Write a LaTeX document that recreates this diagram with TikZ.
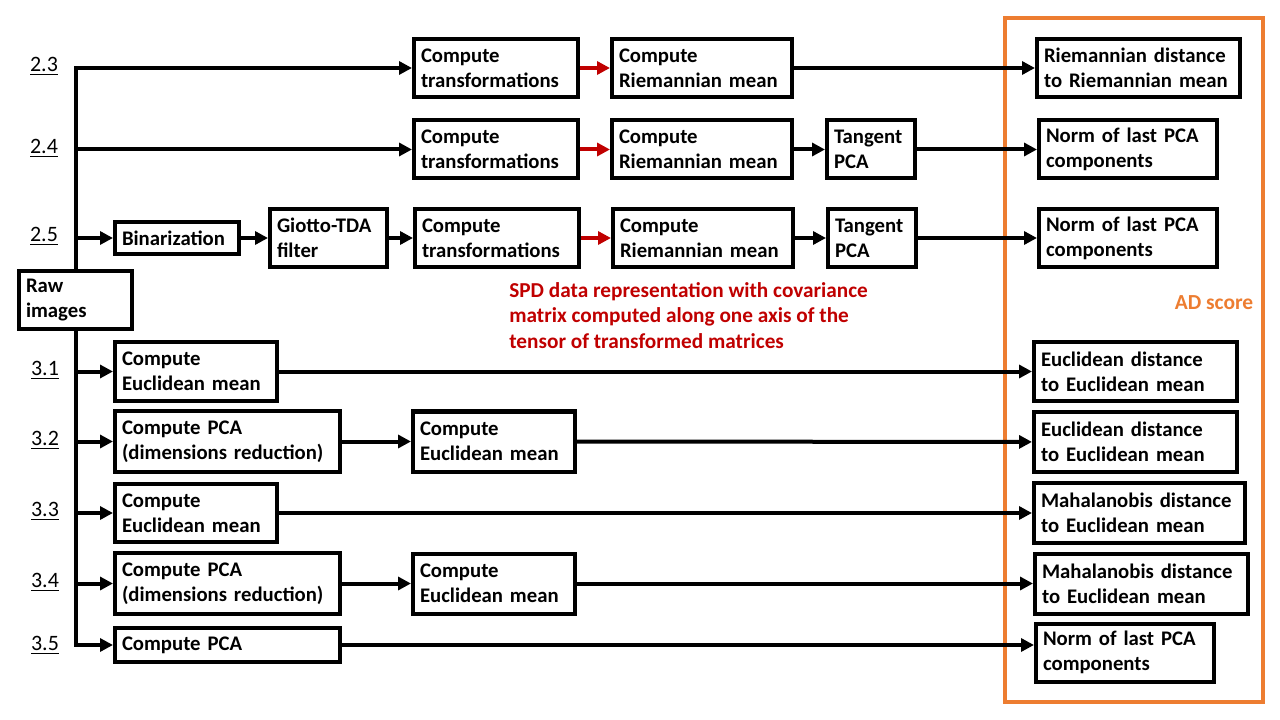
\documentclass[tikz,border=0pt]{standalone}
\usepackage{fontspec}
\setmainfont{Carlito}
\usepackage{tikz}
\usepackage{xcolor}
\usetikzlibrary{positioning, arrows.meta}
\definecolor{spdred}{RGB}{192, 0, 0}
\definecolor{adorange}{RGB}{237, 125, 49}

\begin{document}
\begin{tikzpicture}[
    x=0.2mm, y=-0.2mm,
    box/.style={rectangle, draw=black, line width=0.8mm, align=left, inner xsep=1.4mm, inner ysep=0pt, minimum height=11.6mm, text width=#1, font=\bfseries\fontsize{11.8}{14.2}\selectfont},
    box/.default=30mm,
    tag/.style={font=\fontsize{12.5}{15}\selectfont},
    note/.style={align=left, inner sep=0pt, text=spdred, font=\bfseries\fontsize{12.1}{14.5}\selectfont},
    frame/.style={rectangle, draw=adorange, line width=0.8mm, inner sep=0pt},
    arrow/.style={line width=0.8mm, -{Triangle[length=2.6mm, width=2.6mm]}},
    redarrow/.style={arrow, draw=spdred}
]
\path[use as bounding box, fill=white] (0,0) rectangle (1280,720);

% AD score frame
\node[frame, minimum width=51.6mm, minimum height=136.7mm] (adframe) at (1134,360) {};
\node[font=\bfseries\fontsize{12.2}{14}\selectfont, text=adorange] (adlabel) at (1214,303) {AD score};

% Input
\node[box=19.8mm] (raw) at (75.5,300) {Raw\\images};

% Riemannian pathways
\node[box=30mm, anchor=west] (ct1) at (412,68) {Compute\\transformations};
\node[box=33.2mm, right=6mm of ct1] (cr1) {Compute\\Riemannian mean};

\node[box=30mm, anchor=west] (ct2) at (412,149.5) {Compute\\transformations};
\node[box=33.2mm, right=6mm of ct2] (cr2) {Compute\\Riemannian mean};
\node[box=14.8mm, right=6.2mm of cr2] (tp2) {Tangent\\PCA};

\node[box=22mm, minimum height=6.4mm, anchor=west] (bin) at (113,238) {Binarization};
\node[box=20.6mm, right=5.4mm of bin] (giotto) {Giotto-TDA\\filter};
\node[box=30mm, right=4.8mm of giotto] (ct3) {Compute\\transformations};
\node[box=33.2mm, right=6mm of ct3] (cr3) {Compute\\Riemannian mean};
\node[box=14.8mm, right=6.2mm of cr3] (tp3) {Tangent\\PCA};

\node[note, anchor=north west] (spd) at (509,282) {SPD data representation with covariance\\matrix computed along one axis of the\\tensor of transformed matrices};

% Euclidean pathways
\node[box=29.6mm, anchor=west] (em1) at (113,371.5) {Compute\\Euclidean mean};
\node[box=42.2mm, minimum height=12.2mm, anchor=west] (pca2) at (113,441.5) {Compute PCA\\(dimensions reduction)};
\node[box=29.6mm, minimum height=12mm, right=13.8mm of pca2] (em2) {Compute\\Euclidean mean};
\node[box=29.6mm, anchor=west] (em3) at (113,513) {Compute\\Euclidean mean};
\node[box=42.2mm, minimum height=12.2mm, anchor=west] (pca4) at (113,583.5) {Compute PCA\\(dimensions reduction)};
\node[box=29.6mm, minimum height=12mm, right=13.8mm of pca4] (em4) {Compute\\Euclidean mean};
\node[box=42.2mm, minimum height=6.8mm, anchor=west] (pca5) at (113,645) {Compute PCA};

% AD scores
\node[box=37.8mm, anchor=west] (score1) at (1035,68) {Riemannian distance\\to Riemannian mean};
\node[box=32.8mm, anchor=west] (score2) at (1037,149.5) {Norm of last PCA\\components};
\node[box=32.8mm, anchor=west] (score3) at (1037,238) {Norm of last PCA\\components};
\node[box=37.8mm, anchor=west] (score4) at (1032,371.5) {Euclidean distance\\to Euclidean mean};
\node[box=37.8mm, minimum height=12mm, anchor=west] (score5) at (1032,442) {Euclidean distance\\to Euclidean mean};
\node[box=39.4mm, minimum height=12mm, anchor=west] (score6) at (1032,513) {Mahalanobis distance\\to Euclidean mean};
\node[box=39.8mm, minimum height=12mm, anchor=west] (score7) at (1033,583.5) {Mahalanobis distance\\to Euclidean mean};
\node[box=32.8mm, anchor=west] (score8) at (1034,652.5) {Norm of last PCA\\components};

% Method labels
\node[tag] (m23) at (44,66) {\underline{2.3}};
\node[tag] (m24) at (44,148) {\underline{2.4}};
\node[tag] (m25) at (44,236) {\underline{2.5}};
\node[tag] (m31) at (45,370) {\underline{3.1}};
\node[tag] (m32) at (45,440) {\underline{3.2}};
\node[tag] (m33) at (45,511) {\underline{3.3}};
\node[tag] (m34) at (45,582) {\underline{3.4}};
\node[tag] (m35) at (45,645) {\underline{3.5}};

% Arrows
\draw[arrow] (raw.north) |- (ct1);
\draw[arrow] (raw.north |- ct2) -- (ct2);
\draw[arrow] (raw.north |- bin) -- (bin);
\draw[arrow] (raw.south) |- (pca5);
\draw[arrow] (raw.south |- em1) -- (em1);
\draw[arrow] (raw.south |- pca2) -- (pca2);
\draw[arrow] (raw.south |- em3) -- (em3);
\draw[arrow] (raw.south |- pca4) -- (pca4);

\draw[redarrow] (ct1) -- (cr1);
\draw[arrow] (cr1) -- (score1);

\draw[redarrow] (ct2) -- (cr2);
\draw[arrow] (cr2) -- (tp2);
\draw[arrow] (tp2) -- (score2);

\draw[arrow] (bin) -- (giotto);
\draw[arrow] (giotto) -- (ct3);
\draw[redarrow] (ct3) -- (cr3);
\draw[arrow] (cr3) -- (tp3);
\draw[arrow] (tp3) -- (score3);

\draw[arrow] (em1) -- (score4);
\draw[arrow] (pca2) -- (em2);
\draw[arrow] (em2) -- (score5);
\draw[arrow] (em3) -- (score6);
\draw[arrow] (pca4) -- (em4);
\draw[arrow] (em4) -- (score7);
\draw[arrow] (pca5) -- (pca5 -| score8.west);

\end{tikzpicture}
\end{document}
